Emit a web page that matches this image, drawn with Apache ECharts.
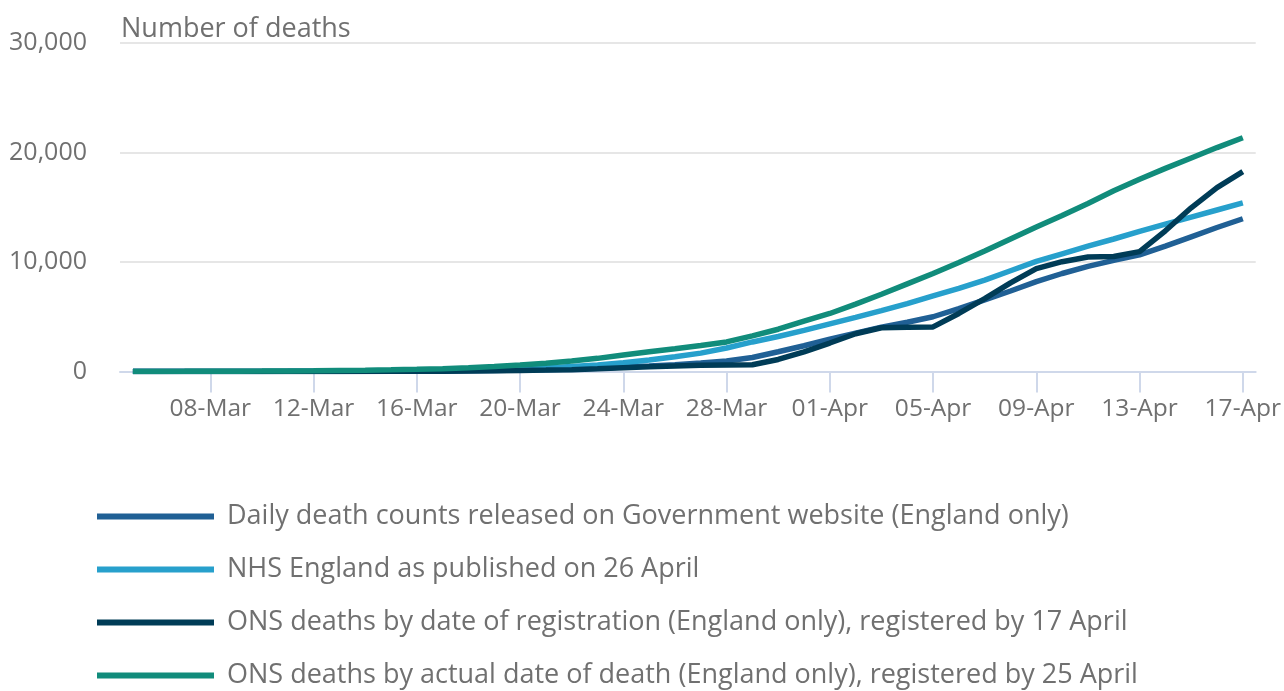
<!DOCTYPE html>
<html>
<head>
<meta charset="utf-8">
<title>Number of deaths</title>
<script src="https://cdn.jsdelivr.net/npm/echarts@6/dist/echarts.min.js"></script>
<style>
  html, body { margin: 0; padding: 0; background: #ffffff; }
  #chart { width: 1284px; height: 691px; }
</style>
</head>
<body>
<div id="chart"></div>
<script>
// Dates 05-Mar to 17-Apr (2020), one per day
const dates = [
  '05-Mar','06-Mar','07-Mar','08-Mar','09-Mar','10-Mar','11-Mar','12-Mar','13-Mar','14-Mar',
  '15-Mar','16-Mar','17-Mar','18-Mar','19-Mar','20-Mar','21-Mar','22-Mar','23-Mar','24-Mar',
  '25-Mar','26-Mar','27-Mar','28-Mar','29-Mar','30-Mar','31-Mar','01-Apr','02-Apr','03-Apr',
  '04-Apr','05-Apr','06-Apr','07-Apr','08-Apr','09-Apr','10-Apr','11-Apr','12-Apr','13-Apr',
  '14-Apr','15-Apr','16-Apr','17-Apr'
];

// Cumulative deaths, England
const govDaily = [
  0, 0, 1, 2, 3, 4, 6, 8, 10, 15,
  20, 30, 45, 65, 90, 130, 170, 220, 300, 400,
  500, 620, 780, 950, 1280, 1800, 2350, 2950, 3500, 4050,
  4500, 5000, 5750, 6550, 7350, 8200, 8950, 9600, 10150, 10650,
  11450, 12300, 13150, 13950
];
const nhsEngland = [
  0, 1, 2, 3, 5, 8, 12, 18, 25, 35,
  50, 70, 95, 130, 175, 240, 330, 450, 600, 800,
  1050, 1350, 1680, 2150, 2700, 3200, 3750, 4350, 4950, 5560,
  6200, 6900, 7600, 8350, 9200, 10050, 10750, 11450, 12100, 12800,
  13450, 14100, 14750, 15400
];
const onsRegistration = [
  0, 0, 0, 0, 1, 2, 3, 5, 8, 10,
  15, 20, 30, 45, 65, 100, 130, 170, 250, 340,
  430, 500, 560, 600, 620, 1100, 1800, 2600, 3450, 4000,
  4050, 4070, 5300, 6650, 8100, 9400, 10030, 10450, 10500, 10950,
  12850, 14950, 16800, 18250
];
const onsOccurrence = [
  5, 8, 12, 18, 25, 35, 50, 70, 95, 120,
  150, 200, 260, 340, 450, 590, 760, 960, 1200, 1500,
  1800, 2080, 2380, 2700, 3250, 3860, 4600, 5300, 6150, 7050,
  8000, 8950, 9950, 11000, 12100, 13200, 14250, 15350, 16500, 17550,
  18550, 19500, 20450, 21350
];

const seriesNames = [
  'Daily death counts released on Government website (England only)',
  'NHS England as published on 26 April',
  'ONS deaths by date of registration (England only), registered by 17 April',
  'ONS deaths by actual date of death (England only), registered by 25 April'
];
const seriesColors = ['#206095', '#27a0cc', '#003c57', '#118c7b'];
const seriesData = [govDaily, nhsEngland, onsRegistration, onsOccurrence];

const yTicks = [0, 10000, 20000, 30000];

const textGrey = '#707070';
const fontFamily = '"Open Sans", "Noto Sans", sans-serif';
const everyFourth = (index) => (index - 3) % 4 === 0;

const chart = echarts.init(document.getElementById('chart'), null, { renderer: 'canvas' });

chart.setOption({
  animation: false,
  backgroundColor: '#ffffff',
  textStyle: { fontFamily: fontFamily },
  title: {
    text: 'Number of deaths',
    left: 116,
    top: 11,
    textStyle: { fontFamily: fontFamily, fontSize: 27, fontWeight: 'normal', color: textGrey }
  },
  grid: { left: 120, right: 28, top: 43, bottom: 319.5, containLabel: false },
  xAxis: {
    type: 'category',
    data: dates,
    boundaryGap: true,
    axisLine: { show: true, lineStyle: { color: '#cfd8ea', width: 2 } },
    axisTick: {
      show: true, alignWithLabel: true, interval: everyFourth,
      length: 21, lineStyle: { color: '#cfd8ea', width: 2 }
    },
    axisLabel: {
      interval: everyFourth, margin: 25,
      fontFamily: fontFamily, fontSize: 24.5, color: textGrey
    },
    splitLine: { show: false }
  },
  yAxis: {
    type: 'value',
    min: yTicks[0],
    max: yTicks[yTicks.length - 1],
    interval: yTicks[1] - yTicks[0],
    axisLine: { show: false },
    axisTick: { show: false },
    axisLabel: {
      margin: 33,
      fontFamily: fontFamily, fontSize: 25, color: textGrey,
      formatter: (v) => v.toLocaleString('en-GB')
    },
    splitLine: { lineStyle: { color: '#e6e6e6', width: 2 } }
  },
  legend: {
    orient: 'vertical',
    left: 97,
    top: 502,
    height: 189,
    padding: 0,
    icon: 'rect',
    itemWidth: 117,
    itemHeight: 6,
    itemGap: 24,
    data: seriesNames,
    textStyle: {
      fontFamily: fontFamily, fontSize: 27, color: textGrey,
      lineHeight: 29, padding: [0, 0, 0, 8]
    }
  },
  series: seriesNames.map((name, i) => ({
    name: name,
    type: 'line',
    data: seriesData[i],
    showSymbol: false,
    symbol: 'none',
    smooth: false,
    lineStyle: { color: seriesColors[i], width: 5.5 },
    itemStyle: { color: seriesColors[i] },
    emphasis: { disabled: true },
    z: 2 + i
  }))
});
</script>
</body>
</html>
